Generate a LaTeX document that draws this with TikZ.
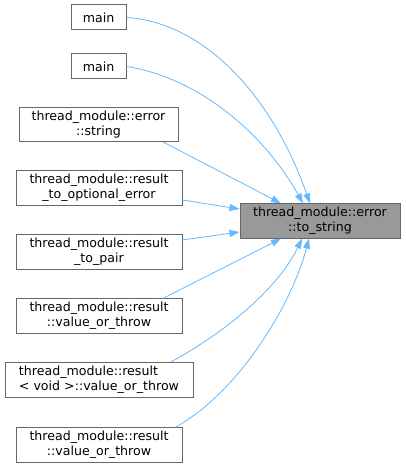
\documentclass[tikz,border=0pt]{standalone}
\usepackage{fontspec}
\setmainfont{DejaVu Sans}
\usepackage{xcolor}
\usetikzlibrary{arrows.meta}
\definecolor{BoxBorder}{HTML}{666666}
\definecolor{BoxTarget}{HTML}{999999}
\definecolor{EdgeBlue}{HTML}{63B8FF}

\begin{document}
\begin{tikzpicture}[
	x=1pt, y=-1pt,
	% Caller node style
	caller/.style={
		rectangle,
		draw=BoxBorder,
		fill=white,
		line width=1pt,
		inner xsep=5pt,
		minimum height=25pt,
		minimum width=166pt,
		font=\fontsize{12.6}{15}\selectfont,
		align=center
	},
	% Called function style
	callee/.style={
		caller,
		fill=BoxTarget,
		minimum width=160pt
	},
	% Directed edge style
	edge/.style={
		draw=EdgeBlue,
		line width=0.8pt,
		-{Triangle[length=10pt,width=7pt]}
	}
	]
	\useasboundingbox (0,0) rectangle (405,470);
	
	% ================= NODES =================
	\node[caller, minimum width=55pt] (main1) at (98.5, 17.5) {main};
	\node[caller, minimum width=55pt] (main2) at (98.5, 66.5) {main};
	
	\node[caller, minimum width=159pt] (errstr) at (98.5, 124.5) {thread\_module::error\\::string};
	\node[caller] (optErr) at (99, 188) {thread\_module::result\\\_to\_optional\_error};
	\node[caller] (toPair) at (99, 252) {thread\_module::result\\\_to\_pair};
	\node[caller] (vot1) at (99, 316) {thread\_module::result\\::value\_or\_throw};
	\node[caller, minimum width=188pt, align=left] (voidv) at (99, 380) {thread\_module::result\\\textless{} void \textgreater::value\_or\_throw};
	\node[caller] (vot2) at (99, 445) {thread\_module::result\\::value\_or\_throw};
	
	\node[callee] (tgt) at (320, 221) {thread\_module::error\\::to\_string};
	
	% ================= EDGES =================
	\draw[edge] (main1.east) .. controls (200,22) and (270,90) .. ([xshift=-10pt]tgt.north);
	\draw[edge] (main2.east) .. controls (200,78) and (265,135) .. ([xshift=-17pt]tgt.north);
	\draw[edge] ([xshift=64.5pt]errstr.south) -- ([xshift=-39pt]tgt.north);
	
	\draw[edge] ([yshift=-12pt]optErr.east) -- ([yshift=12pt]tgt.west);
	\draw[edge] ([yshift=12pt]toPair.east) -- ([yshift=-11pt]tgt.west);
	
	\draw[edge] ([xshift=64pt]vot1.north) -- ([xshift=-39pt]tgt.south);
	\draw[edge] ([xshift=71pt]voidv.north) .. controls (230,330) and (280,285) .. ([xshift=-18pt]tgt.south);
	\draw[edge] ([xshift=76pt]vot2.north) .. controls (235,395) and (290,310) .. ([xshift=-11pt]tgt.south);
	
\end{tikzpicture}
\end{document}
